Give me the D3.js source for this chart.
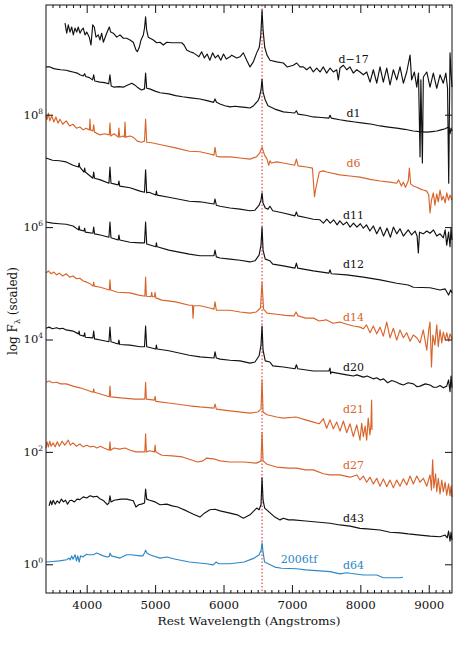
<!DOCTYPE html>
<html><head><meta charset="utf-8">
<script src="https://cdn.jsdelivr.net/npm/d3@7"></script>
<style>body{margin:0;background:#fff}svg{display:block}</style>
</head><body>
<svg id="c" width="457" height="653"></svg>
<script>
// ---------- data (wavelength in Angstrom, log10 of scaled flux) ----------
const xTickMajor = [4000, 5000, 6000, 7000, 8000, 9000];
const yTickExp = [0, 2, 4, 6, 8];
const epochLabels = ["d\u221217","d1","d6","d11","d12","d14","d20","d21","d27","d43","d64"];
const objectLabel = "2006tf";
const halphaRest = 6563;

const specDm17 = [[3683,9.63],[3708,9.45],[3731,9.60],[3756,9.47],[3781,9.56],[3804,9.42],[3829,9.54],[3854,9.47],[3877,9.56],[3902,9.45],[3927,9.51],[3950,9.54],[3975,9.42],[4000,9.47],[4038,9.38],[4063,9.24],[4088,9.60],[4111,9.56],[4136,9.38],[4170,9.42],[4194,9.33],[4219,9.45],[4243,9.29],[4292,9.45],[4330,9.56],[4351,9.47],[4389,9.45],[4439,9.38],[4487,9.42],[4535,9.36],[4585,9.36],[4633,9.33],[4681,9.29],[4721,9.15],[4740,9.12],[4769,9.20],[4794,9.33],[4828,9.42],[4845,9.54],[4861,9.74],[4876,9.51],[4900,9.38],[4974,9.33],[5023,9.28],[5072,9.29],[5120,9.24],[5170,9.29],[5243,9.28],[5316,9.28],[5389,9.28],[5423,9.24],[5462,9.15],[5510,9.12],[5559,9.10],[5608,9.06],[5640,9.03],[5680,9.12],[5720,9.01],[5760,9.08],[5800,8.97],[5840,9.10],[5880,9.01],[5920,9.06],[5960,8.97],[6000,9.08],[6040,8.99],[6095,9.03],[6120,9.06],[6193,9.01],[6240,9.03],[6290,9.10],[6339,8.97],[6387,8.85],[6436,8.94],[6485,9.10],[6523,9.20],[6545,9.42],[6563,9.86],[6578,9.51],[6602,9.20],[6636,9.06],[6680,8.97],[6778,8.94],[6875,8.92],[6930,8.85],[7021,8.88],[7070,8.92],[7118,8.85],[7167,8.85],[7216,8.80],[7265,8.85],[7313,8.76],[7362,8.83],[7411,8.76],[7459,8.85],[7508,8.74],[7557,8.83],[7605,8.76],[7655,8.80],[7678,8.62],[7703,8.83],[7752,8.88],[7801,8.80],[7849,8.85],[7898,8.74],[7947,8.80],[7995,8.76],[8044,8.71],[8093,8.76],[8142,8.58],[8190,8.80],[8240,8.56],[8288,8.85],[8336,8.58],[8386,8.83],[8434,8.53],[8483,8.80],[8532,8.62],[8580,8.85],[8629,8.56],[8678,8.76],[8727,9.06],[8750,8.62],[8790,8.76],[8825,8.49],[8850,8.74],[8873,7.25],[8885,8.62],[8907,7.14],[8921,8.67],[8971,8.76],[9019,8.49],[9067,8.74],[9117,8.47],[9165,8.71],[9213,8.56],[9250,8.74],[9275,8.47],[9292,6.78],[9311,9.10],[9326,8.74],[9340,8.49]];

const specD1 = [[3405,8.85],[3463,8.85],[3520,8.82],[3560,8.81],[3620,8.80],[3700,8.79],[3760,8.77],[3800,8.76],[3860,8.74],[3900,8.71],[3950,8.69],[3970,8.73],[3985,8.68],[4040,8.66],[4085,8.62],[4102,8.71],[4118,8.60],[4194,8.58],[4260,8.57],[4322,8.55],[4340,8.71],[4358,8.51],[4400,8.49],[4470,8.50],[4535,8.49],[4600,8.53],[4660,8.56],[4700,8.53],[4740,8.49],[4800,8.44],[4845,8.46],[4861,8.74],[4877,8.47],[4920,8.46],[5000,8.42],[5072,8.39],[5200,8.37],[5300,8.34],[5400,8.32],[5520,8.30],[5656,8.28],[5760,8.25],[5855,8.22],[5876,8.28],[5897,8.22],[5949,8.19],[6020,8.16],[6095,8.14],[6170,8.15],[6241,8.14],[6320,8.13],[6387,8.12],[6430,8.15],[6460,8.19],[6500,8.24],[6523,8.30],[6548,8.44],[6563,8.63],[6578,8.40],[6610,8.26],[6650,8.16],[6750,8.10],[6875,8.05],[6960,8.04],[7040,8.03],[7065,8.07],[7090,8.01],[7200,7.99],[7313,7.96],[7430,7.95],[7540,7.94],[7557,7.99],[7575,7.94],[7700,7.91],[7801,7.89],[7920,7.87],[8044,7.85],[8170,7.83],[8288,7.80],[8410,7.78],[8532,7.76],[8650,7.74],[8775,7.71],[8870,7.70],[8971,7.69],[9050,7.70],[9117,7.71],[9180,7.73],[9240,7.75],[9290,7.78],[9311,7.66],[9326,7.76],[9340,7.71]];

const specD6 = [[3405,7.99],[3420,7.91],[3440,8.03],[3460,7.89],[3490,7.98],[3520,7.87],[3550,7.96],[3580,7.85],[3610,7.92],[3650,7.83],[3700,7.89],[3750,7.80],[3800,7.83],[3850,7.76],[3900,7.78],[3950,7.73],[3990,7.76],[4040,7.73],[4048,7.92],[4056,7.73],[4090,7.71],[4102,7.82],[4115,7.69],[4194,7.64],[4260,7.66],[4330,7.64],[4340,7.85],[4352,7.62],[4400,7.66],[4460,7.60],[4471,7.76],[4483,7.60],[4530,7.62],[4550,7.60],[4560,7.87],[4570,7.60],[4633,7.62],[4680,7.60],[4740,7.53],[4800,7.51],[4845,7.53],[4861,7.92],[4877,7.51],[4950,7.50],[5100,7.46],[5300,7.41],[5500,7.35],[5656,7.34],[5800,7.30],[5860,7.28],[5876,7.42],[5895,7.26],[5949,7.25],[6095,7.25],[6241,7.23],[6387,7.21],[6480,7.25],[6530,7.32],[6563,7.42],[6600,7.28],[6636,7.21],[6660,7.10],[6680,7.18],[6700,7.14],[6778,7.16],[6875,7.14],[7040,7.10],[7065,7.21],[7090,7.09],[7216,7.07],[7300,7.05],[7330,6.54],[7345,6.66],[7365,6.78],[7400,6.98],[7459,7.00],[7508,6.98],[7700,6.93],[7849,6.91],[7995,6.89],[8142,6.85],[8288,6.82],[8434,6.80],[8532,6.78],[8560,6.84],[8600,6.73],[8629,6.80],[8660,6.71],[8700,6.82],[8717,7.05],[8735,6.77],[8775,6.73],[8825,6.71],[8873,6.68],[8920,6.66],[8971,6.64],[9000,6.57],[9019,6.25],[9040,6.48],[9067,6.61],[9090,6.39],[9117,6.59],[9140,6.45],[9165,6.66],[9190,6.48],[9213,6.55],[9240,6.43],[9263,6.61],[9290,6.48],[9311,6.57],[9340,6.48]];

const specD11 = [[3405,7.23],[3500,7.19],[3600,7.18],[3700,7.16],[3800,7.10],[3880,7.07],[3889,7.14],[3898,7.07],[3960,6.98],[3970,7.05],[3980,6.98],[4090,6.87],[4102,6.98],[4115,6.87],[4200,6.84],[4325,6.78],[4340,7.07],[4355,6.78],[4400,6.77],[4460,6.75],[4471,6.82],[4483,6.73],[4633,6.70],[4780,6.64],[4845,6.62],[4861,7.02],[4877,6.61],[4910,6.62],[5010,6.57],[5018,6.64],[5030,6.57],[5200,6.53],[5500,6.46],[5656,6.45],[5860,6.41],[5876,6.50],[5895,6.39],[5949,6.37],[6095,6.34],[6241,6.32],[6387,6.29],[6460,6.30],[6520,6.39],[6548,6.48],[6563,6.61],[6578,6.43],[6610,6.34],[6650,6.32],[6678,6.37],[6720,6.29],[6875,6.25],[7045,6.20],[7065,6.27],[7085,6.20],[7200,6.17],[7313,6.14],[7410,6.13],[7460,6.07],[7510,6.14],[7560,6.07],[7610,6.13],[7660,6.04],[7700,6.11],[7750,6.04],[7801,6.09],[7850,6.00],[7900,6.07],[7950,6.00],[8000,6.06],[8044,5.98],[8090,6.04],[8140,5.93],[8190,6.02],[8240,5.88],[8290,6.00],[8340,5.84],[8390,5.98],[8440,5.82],[8483,6.00],[8532,5.88],[8580,5.97],[8629,5.84],[8700,5.95],[8750,5.86],[8800,5.93],[8830,5.84],[8848,5.54],[8865,5.91],[8920,5.88],[8971,5.93],[9019,5.89],[9070,5.95],[9117,5.84],[9165,5.88],[9213,5.81],[9240,5.95],[9263,5.68],[9290,5.91],[9311,5.65],[9326,5.98],[9340,5.77]];

const specD12 = [[3405,6.09],[3500,6.07],[3600,6.06],[3700,6.05],[3800,6.02],[3880,5.95],[3889,6.02],[3898,5.95],[3960,5.93],[3970,5.98],[3980,5.91],[4090,5.89],[4102,6.00],[4115,5.88],[4200,5.86],[4325,5.82],[4340,6.09],[4355,5.81],[4460,5.77],[4471,5.86],[4483,5.77],[4633,5.73],[4780,5.72],[4845,5.72],[4861,6.09],[4877,5.70],[5010,5.65],[5018,5.72],[5030,5.65],[5200,5.59],[5500,5.52],[5656,5.49],[5860,5.49],[5876,5.59],[5895,5.47],[5949,5.45],[6095,5.43],[6241,5.41],[6387,5.38],[6460,5.40],[6520,5.50],[6548,5.68],[6563,6.00],[6578,5.59],[6610,5.43],[6678,5.40],[6720,5.34],[6875,5.31],[7045,5.27],[7065,5.36],[7085,5.27],[7313,5.22],[7540,5.18],[7557,5.24],[7575,5.17],[7801,5.15],[8044,5.11],[8290,5.06],[8532,5.00],[8700,4.97],[8775,4.93],[9019,4.92],[9165,4.88],[9240,4.90],[9290,4.79],[9320,4.88],[9340,4.83]];

const specD14 = [[3405,5.18],[3440,5.22],[3480,5.17],[3520,5.20],[3560,5.15],[3600,5.18],[3650,5.13],[3700,5.17],[3750,5.11],[3800,5.13],[3850,5.08],[3900,5.09],[3950,5.04],[4000,5.02],[4050,4.99],[4092,4.95],[4102,5.02],[4112,4.95],[4200,4.93],[4330,4.88],[4340,5.06],[4350,4.88],[4450,4.84],[4633,4.83],[4760,4.79],[4850,4.77],[4861,5.11],[4872,4.77],[4940,4.76],[4950,4.84],[4960,4.76],[4990,4.76],[5000,4.84],[5010,4.74],[5100,4.70],[5300,4.67],[5500,4.61],[5545,4.61],[5555,4.38],[5565,4.60],[5656,4.60],[5800,4.56],[5860,4.54],[5876,4.67],[5895,4.52],[5949,4.52],[6095,4.52],[6241,4.49],[6387,4.47],[6480,4.49],[6540,4.56],[6563,5.02],[6585,4.54],[6636,4.47],[6778,4.45],[6900,4.43],[7030,4.42],[7060,4.49],[7090,4.42],[7200,4.38],[7313,4.38],[7400,4.33],[7500,4.35],[7600,4.29],[7700,4.31],[7801,4.27],[7900,4.24],[7995,4.22],[8044,4.19],[8090,4.26],[8142,4.12],[8190,4.24],[8240,4.10],[8288,4.22],[8336,4.06],[8386,4.31],[8434,4.03],[8483,4.20],[8532,3.99],[8580,4.17],[8629,4.03],[8678,4.12],[8727,3.97],[8775,4.08],[8825,4.03],[8873,3.94],[8920,4.17],[8971,3.81],[9000,4.17],[9019,4.31],[9040,3.51],[9060,4.08],[9090,3.90],[9117,4.26],[9140,3.87],[9165,4.17],[9190,3.94],[9213,4.13],[9240,3.99],[9263,4.12],[9290,3.97],[9311,4.10],[9340,4.01]];

const specD20 = [[3405,4.20],[3450,4.22],[3500,4.19],[3560,4.21],[3600,4.19],[3650,4.20],[3700,4.17],[3800,4.15],[3880,4.10],[3889,4.15],[3898,4.08],[3960,4.06],[3970,4.12],[3980,4.04],[4090,4.03],[4102,4.15],[4115,4.01],[4200,3.99],[4325,3.96],[4340,4.22],[4355,3.96],[4460,3.92],[4471,3.99],[4483,3.91],[4633,3.90],[4780,3.87],[4845,3.87],[4861,4.24],[4877,3.87],[5010,3.83],[5018,3.90],[5030,3.83],[5200,3.80],[5500,3.72],[5656,3.69],[5860,3.67],[5876,3.78],[5895,3.67],[5949,3.65],[6095,3.63],[6241,3.62],[6387,3.58],[6460,3.60],[6520,3.71],[6548,3.90],[6563,4.24],[6578,3.81],[6610,3.62],[6678,3.60],[6720,3.53],[6875,3.51],[7045,3.48],[7065,3.55],[7085,3.48],[7313,3.44],[7540,3.44],[7557,3.49],[7565,3.39],[7580,3.42],[7801,3.37],[7900,3.35],[7950,3.37],[8044,3.33],[8100,3.35],[8190,3.30],[8240,3.32],[8290,3.28],[8340,3.30],[8400,3.23],[8460,3.27],[8532,3.24],[8580,3.21],[8629,3.19],[8700,3.23],[8775,3.21],[8830,3.16],[8873,3.17],[8950,3.21],[9019,3.19],[9070,3.15],[9117,3.15],[9165,3.18],[9213,3.14],[9263,3.17],[9290,3.28],[9311,3.07],[9326,3.35],[9340,3.14]];

const specD21 = [[3405,3.24],[3450,3.26],[3500,3.23],[3560,3.24],[3620,3.21],[3700,3.21],[3800,3.17],[3900,3.14],[4000,3.10],[4092,3.06],[4102,3.12],[4112,3.06],[4200,3.03],[4330,2.98],[4340,3.17],[4350,2.98],[4500,2.96],[4700,2.94],[4850,2.94],[4861,3.24],[4872,2.94],[4990,2.92],[5000,2.99],[5010,2.90],[5200,2.87],[5500,2.82],[5656,2.80],[5860,2.78],[5876,2.85],[5895,2.76],[6095,2.73],[6387,2.69],[6500,2.71],[6548,2.76],[6563,3.28],[6578,2.71],[6636,2.66],[6778,2.62],[6875,2.60],[7060,2.62],[7200,2.57],[7313,2.53],[7400,2.50],[7459,2.59],[7508,2.42],[7557,2.57],[7605,2.41],[7655,2.53],[7703,2.37],[7752,2.55],[7801,2.34],[7849,2.50],[7898,2.27],[7947,2.48],[7995,2.21],[8020,2.51],[8044,2.27],[8070,2.46],[8093,2.21],[8115,2.60],[8140,2.30],[8155,2.48],[8165,2.92],[8171,2.39]];

const specD27 = [[3405,2.07],[3420,2.18],[3440,2.09],[3460,2.19],[3480,2.10],[3510,2.16],[3540,2.09],[3570,2.18],[3600,2.10],[3640,2.19],[3680,2.12],[3731,2.21],[3760,2.12],[3800,2.16],[3850,2.10],[3900,2.14],[3950,2.09],[4000,2.12],[4050,2.09],[4100,2.10],[4150,2.07],[4200,2.10],[4250,2.07],[4330,2.03],[4340,2.18],[4350,2.03],[4400,2.07],[4480,2.05],[4560,2.07],[4640,2.03],[4720,2.00],[4800,2.00],[4850,2.00],[4861,2.32],[4872,2.00],[4920,2.02],[4990,2.00],[5000,2.12],[5010,2.00],[5100,1.94],[5250,1.93],[5400,1.91],[5500,1.87],[5620,1.82],[5700,1.84],[5754,1.89],[5876,1.87],[5950,1.84],[6095,1.82],[6300,1.82],[6480,1.80],[6548,1.84],[6563,2.35],[6578,1.84],[6636,1.78],[6778,1.73],[6950,1.71],[7065,1.71],[7200,1.68],[7313,1.68],[7459,1.61],[7557,1.59],[7700,1.59],[7850,1.55],[7950,1.59],[7995,1.50],[8044,1.57],[8093,1.46],[8142,1.55],[8190,1.43],[8240,1.53],[8288,1.39],[8336,1.52],[8386,1.38],[8434,1.50],[8483,1.36],[8532,1.50],[8580,1.39],[8629,1.52],[8678,1.41],[8727,1.57],[8775,1.43],[8825,1.57],[8873,1.46],[8921,1.53],[8971,1.39],[9019,1.59],[9040,1.32],[9057,1.86],[9075,1.36],[9100,1.61],[9117,1.29],[9140,1.53],[9165,1.25],[9190,1.50],[9213,1.29],[9240,1.46],[9263,1.23],[9290,1.43],[9311,1.22],[9326,1.39],[9340,1.20]];

const specD43 = [[3450,1.04],[3470,1.13],[3490,1.06],[3510,1.14],[3540,1.07],[3570,1.13],[3600,1.09],[3630,1.16],[3660,1.11],[3690,1.14],[3720,1.07],[3750,1.13],[3780,1.14],[3820,1.11],[3860,1.16],[3900,1.15],[3950,1.20],[4000,1.18],[4050,1.22],[4100,1.20],[4150,1.21],[4200,1.16],[4250,1.13],[4300,1.06],[4325,1.09],[4340,1.22],[4355,1.11],[4400,1.14],[4500,1.16],[4585,1.16],[4681,1.13],[4720,1.02],[4760,1.06],[4800,1.07],[4845,1.09],[4861,1.34],[4877,1.16],[4920,1.14],[5000,1.11],[5072,1.06],[5170,1.07],[5250,1.04],[5330,1.02],[5460,0.95],[5560,0.89],[5656,0.84],[5720,0.91],[5800,0.97],[5876,0.98],[5950,0.95],[6095,0.91],[6200,0.88],[6290,0.82],[6387,0.88],[6485,1.00],[6520,0.97],[6548,1.06],[6563,1.54],[6578,1.14],[6602,1.00],[6750,0.84],[6826,0.79],[6875,0.82],[6950,0.79],[7021,0.79],[7200,0.77],[7557,0.73],[7700,0.70],[7850,0.68],[7995,0.64],[8100,0.63],[8288,0.61],[8434,0.57],[8580,0.56],[8700,0.54],[8873,0.52],[9019,0.50],[9165,0.49],[9240,0.52],[9270,0.47],[9290,0.59],[9311,0.41],[9326,0.57],[9340,0.43]];

const specD64 = [[3405,0.04],[3500,0.05],[3600,0.06],[3708,0.08],[3740,0.11],[3760,0.08],[3780,0.15],[3800,0.09],[3830,0.17],[3850,0.06],[3870,0.15],[3890,0.04],[3910,0.15],[3940,0.13],[4000,0.18],[4020,0.17],[4097,0.17],[4146,0.20],[4243,0.15],[4300,0.13],[4330,0.14],[4340,0.20],[4360,0.15],[4487,0.11],[4585,0.17],[4650,0.17],[4779,0.15],[4820,0.15],[4845,0.20],[4861,0.25],[4880,0.20],[4920,0.17],[5072,0.11],[5170,0.13],[5300,0.09],[5500,0.04],[5750,0.01],[5850,-0.01],[5890,0.04],[5930,0.01],[6095,0.01],[6300,0.04],[6450,0.11],[6520,0.17],[6550,0.25],[6563,0.38],[6578,0.22],[6600,0.04],[6750,-0.05],[6850,-0.07],[7070,-0.08],[7200,-0.10],[7557,-0.13],[7703,-0.17],[7801,-0.15],[7850,-0.16],[8044,-0.19],[8240,-0.19],[8336,-0.24],[8580,-0.24],[8624,-0.23]];

// ---------- drawing ----------
const BLACK = "#111", ORANGE = "#d9642b", BLUE = "#2b87c8";
const series = [
  {label: epochLabels[0], data: specDm17, color: BLACK, ly: 8.99},
  {label: epochLabels[1], data: specD1, color: BLACK, ly: 8.03},
  {label: epochLabels[2], data: specD6, color: ORANGE, ly: 7.14},
  {label: epochLabels[3], data: specD11, color: BLACK, ly: 6.21},
  {label: epochLabels[4], data: specD12, color: BLACK, ly: 5.33},
  {label: epochLabels[5], data: specD14, color: ORANGE, ly: 4.40},
  {label: epochLabels[6], data: specD20, color: BLACK, ly: 3.51},
  {label: epochLabels[7], data: specD21, color: ORANGE, ly: 2.75},
  {label: epochLabels[8], data: specD27, color: ORANGE, ly: 1.75},
  {label: epochLabels[9], data: specD43, color: BLACK, ly: 0.81},
  {label: epochLabels[10], data: specD64, color: BLUE, ly: -0.03}
];

const svg = d3.select("#c");
const L = 46, R = 452, T = 5, B = 593;
const x = d3.scaleLinear().domain([3405, 9340]).range([L, R]);
const y = d3.scaleLog().domain([Math.pow(10, -0.511), Math.pow(10, 9.952)]).range([B, T]);
const FONT = "'DejaVu Serif', serif";

// H-alpha marker
svg.append("line")
  .attr("x1", x(halphaRest)).attr("x2", x(halphaRest))
  .attr("y1", T).attr("y2", B)
  .attr("stroke", "#d92020").attr("stroke-width", 1)
  .attr("stroke-dasharray", "1.5,2");

const line = d3.line().x(d => x(d[0])).y(d => y(Math.pow(10, d[1])));
const gS = svg.append("g");
series.forEach(s => {
  gS.append("path").attr("d", line(s.data))
    .attr("fill", "none").attr("stroke", s.color)
    .attr("stroke-width", 1.15).attr("stroke-linejoin", "round");
  gS.append("text").attr("x", x(7901)).attr("y", y(Math.pow(10, s.ly)))
    .attr("text-anchor", "middle").attr("dominant-baseline", "central")
    .attr("font-family", FONT).attr("font-size", 11).attr("fill", s.color)
    .text(s.label);
});
svg.append("text").attr("x", x(7104)).attr("y", y(Math.pow(10, 0.08)))
  .attr("text-anchor", "middle").attr("dominant-baseline", "central")
  .attr("font-family", FONT).attr("font-size", 11).attr("fill", BLUE)
  .text(objectLabel);

// axes
const minorX = d3.range(3500, 9340, 100).filter(v => v % 1000 !== 0);
function clean(g) { g.select(".domain").remove(); g.selectAll("line").attr("stroke", "#111"); }
svg.append("g").attr("transform", `translate(0,${B})`)
  .call(d3.axisBottom(x).tickValues(minorX).tickSize(-3).tickFormat("")).call(clean);
const gxb = svg.append("g").attr("transform", `translate(0,${B})`)
  .call(d3.axisBottom(x).tickValues(xTickMajor).tickSize(-8).tickPadding(8).tickFormat(d3.format("d"))).call(clean);
gxb.selectAll("text").attr("font-family", FONT).attr("font-size", 11.8).attr("fill", "#111");
svg.append("g").attr("transform", `translate(0,${T})`)
  .call(d3.axisTop(x).tickValues(minorX).tickSize(-3).tickFormat("")).call(clean);
svg.append("g").attr("transform", `translate(0,${T})`)
  .call(d3.axisTop(x).tickValues(xTickMajor).tickSize(-8).tickFormat("")).call(clean);

const yTicks = yTickExp.map(e => Math.pow(10, e));
svg.append("g").attr("transform", `translate(${L},0)`)
  .call(d3.axisLeft(y).tickValues(yTicks).tickSize(-7).tickFormat("")).call(clean);
svg.append("g").attr("transform", `translate(${R},0)`)
  .call(d3.axisRight(y).tickValues(yTicks).tickSize(-7).tickFormat("")).call(clean);

const gyl = svg.append("g");
yTickExp.forEach(e => {
  const t = gyl.append("text").attr("x", 43).attr("y", y(Math.pow(10, e)) + 4)
    .attr("text-anchor", "end").attr("font-family", FONT).attr("fill", "#111");
  t.append("tspan").attr("font-size", 11.5).text("10");
  t.append("tspan").attr("font-size", 7.5).attr("dy", -5).text(e);
});

svg.append("rect").attr("x", L).attr("y", T).attr("width", R - L).attr("height", B - T)
  .attr("fill", "none").attr("stroke", "#111").attr("stroke-width", 1);

// axis titles
svg.append("text").attr("x", (L + R) / 2).attr("y", 624.5)
  .attr("text-anchor", "middle").attr("font-family", FONT).attr("font-size", 11.8).attr("fill", "#111")
  .attr("textLength", 183).attr("lengthAdjust", "spacingAndGlyphs")
  .text("Rest Wavelength (Angstroms)");
const yt = svg.append("text").attr("transform", "translate(17,311) rotate(-90)")
  .attr("text-anchor", "middle").attr("font-family", FONT).attr("font-size", 12).attr("fill", "#111")
  .attr("textLength", 88).attr("lengthAdjust", "spacingAndGlyphs");
yt.append("tspan").text("log F");
yt.append("tspan").attr("font-size", 8).attr("dy", 3).text("\u03bb");
yt.append("tspan").attr("dy", -3).text(" (scaled)");
</script>
</body></html>
